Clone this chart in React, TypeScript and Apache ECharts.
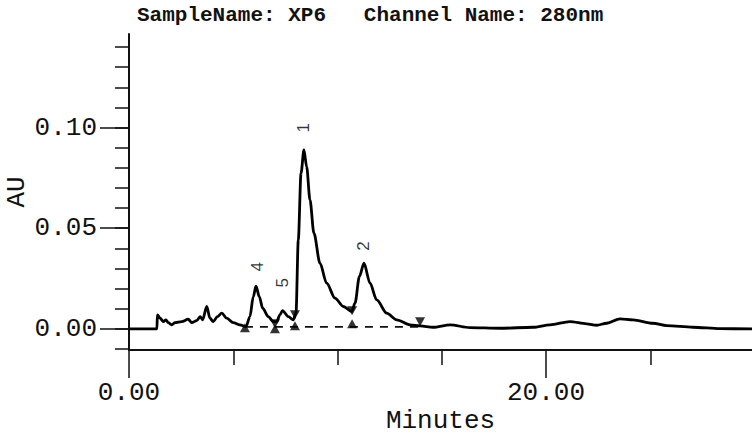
import React, { useEffect, useRef } from "react";
import * as echarts from "echarts";

// Chromatogram trace (Minutes, AU)
const timeMin = [
  0, 1.34, 1.36, 1.49, 1.65, 1.77, 1.88, 2.05, 2.21, 2.53, 2.84, 3.01, 3.25, 3.41, 3.53, 3.73, 3.88,
  4.04, 4.24, 4.45, 4.69, 5.0, 5.32, 5.61, 5.8, 5.96, 6.09, 6.25, 6.41, 6.68, 6.92, 7.08, 7.24,
  7.36, 7.64, 7.88, 8.01, 8.12, 8.25, 8.39, 8.52, 8.68, 8.87, 9.16, 9.48, 9.88, 10.28, 10.68,
  10.84, 11.05, 11.27, 11.56, 11.88, 12.36, 12.84, 13.48, 13.96, 14.58, 15.4, 16.35, 17.79,
  19.38, 20.19, 21.15, 21.95, 22.43, 22.91, 23.55, 24.17, 25.13, 25.79, 27.05, 28.35, 29.88,
];
const absorbanceAU = [
  0, 0, 0.007, 0.0053, 0.0036, 0.0045, 0.0031, 0.002, 0.0031, 0.0036, 0.0048, 0.0031, 0.0041,
  0.0061, 0.0045, 0.0111, 0.0053, 0.0036, 0.0061, 0.0078, 0.0053, 0.0031, 0.002, 0.0011, 0.0061,
  0.016, 0.0212, 0.016, 0.0103, 0.0061, 0.0036, 0.0036, 0.007, 0.0091, 0.0061, 0.0045, 0.0079,
  0.0442, 0.0773, 0.0889, 0.0806, 0.0641, 0.0475, 0.0326, 0.0227, 0.0153, 0.0111, 0.0086,
  0.0128, 0.026, 0.0326, 0.0227, 0.0144, 0.0078, 0.0045, 0.002, 0.0015, 0.0008, 0.002, 0.0006,
  0.0003, 0.0008, 0.002, 0.0036, 0.0025, 0.0018, 0.0028, 0.005, 0.0045, 0.0028, 0.0016, 0.0008,
  0.0001, 0,
];

// Peak numbers
const peakLabelNames = ["1", "2", "4", "5"];
const peakLabelTimes = [8.39, 11.27, 6.14, 7.34];
const peakLabelAU = [0.0999, 0.0412, 0.0308, 0.0229];

// Integration marks
const peakStartTimes = [5.56, 7.0, 7.96, 10.7];
const peakStartAU = [0.0005, 0.0, 0.0015, 0.0025];
const peakEndTimes = [7.0, 7.96, 10.7, 13.96];
const peakEndAU = [0.0025, 0.007, 0.009, 0.0035];
const baselineTimes = [5.56, 13.96];
const baselineAU = [0.001, 0.001];

// Axis ticks
const yMinorTicks = [-0.01, 0, 0.01, 0.02, 0.03, 0.04, 0.05, 0.06, 0.07, 0.08, 0.09, 0.1, 0.11, 0.12, 0.13, 0.14];
const yMajorTicks = [0, 0.05, 0.1];
const xMinorTicks = [5, 10, 15, 25];
const xMajorTicks = [0, 20];

const titleText = "SampleName: XP6   Channel Name: 280nm";

const MONO = "'Liberation Mono', 'DejaVu Sans Mono', monospace";

export default function App() {
  const ref = useRef<HTMLDivElement>(null);

  useEffect(() => {
    if (!ref.current) return;
    const chart = echarts.init(ref.current, null, { renderer: "svg" });
    const X_MIN = 0;
    const X_MAX = 29.88;
    const Y_MIN = -0.0105;
    const Y_MAX = 0.1465;

    const axisColor = "#111";
    const option: any = {
      animation: false,
      backgroundColor: "#fff",
      title: {
        text: titleText,
        left: 132,
        top: 0,
        textStyle: { fontFamily: MONO, fontSize: 21, fontWeight: "bold", color: "#111" },
      },
      grid: {
        left: 129,
        top: 34,
        width: 623,
        height: 316,
        containLabel: false,
        outerBoundsMode: "none",
      },
      xAxis: [
        {
          type: "value",
          min: X_MIN,
          max: X_MAX,
          position: "bottom",
          name: "Minutes",
          nameLocation: "middle",
          nameGap: 58,
          nameMoveOverlap: false,
          nameTextStyle: { fontFamily: MONO, fontSize: 26, color: "#111" },
          axisLine: { onZero: false, lineStyle: { color: axisColor, width: 2 } },
          axisTick: { customValues: xMinorTicks, length: 15, lineStyle: { color: axisColor, width: 1.5 } },
          axisLabel: {
            customValues: xMajorTicks,
            formatter: (v: number) => v.toFixed(2),
            margin: 30,
            fontFamily: MONO,
            fontSize: 26,
            color: "#111",
          },
          splitLine: { show: false },
        },
        {
          type: "value",
          min: X_MIN,
          max: X_MAX,
          position: "bottom",
          axisLine: { show: false, onZero: false },
          axisTick: { customValues: xMajorTicks, length: 28, lineStyle: { color: axisColor, width: 1.5 } },
          axisLabel: { show: false },
          splitLine: { show: false },
        },
      ],
      yAxis: [
        {
          type: "value",
          min: Y_MIN,
          max: Y_MAX,
          position: "left",
          name: "AU",
          nameLocation: "middle",
          nameRotate: 90,
          nameGap: 99,
          nameMoveOverlap: false,
          nameTextStyle: { fontFamily: MONO, fontSize: 26, color: "#111" },
          axisLine: { onZero: false, lineStyle: { color: axisColor, width: 2 } },
          axisTick: { customValues: yMinorTicks, length: 14, lineStyle: { color: axisColor, width: 1.5 } },
          axisLabel: {
            customValues: yMajorTicks,
            formatter: (v: number) => v.toFixed(2),
            margin: 32,
            fontFamily: MONO,
            fontSize: 26,
            color: "#111",
          },
          splitLine: { show: false },
        },
        {
          type: "value",
          min: Y_MIN,
          max: Y_MAX,
          position: "left",
          axisLine: { show: false, onZero: false },
          axisTick: { customValues: yMajorTicks, length: 29, lineStyle: { color: axisColor, width: 1.5 } },
          axisLabel: { show: false },
          splitLine: { show: false },
        },
      ],
      series: [
        {
          type: "line",
          name: "baseline",
          xAxisIndex: 0,
          yAxisIndex: 0,
          data: baselineTimes.map((t, i) => [t, baselineAU[i]]),
          symbol: "none",
          lineStyle: { color: "#111", width: 1.7, type: [8, 7] },
          z: 1,
        },
        {
          type: "line",
          name: "280nm",
          xAxisIndex: 0,
          yAxisIndex: 0,
          data: timeMin.map((t, i) => [t, absorbanceAU[i]]),
          symbol: "none",
          smooth: 0.3,
          smoothMonotone: "x",
          lineStyle: { color: "#000", width: 2.8 },
          z: 3,
        },
        {
          type: "scatter",
          name: "peak start",
          data: peakStartTimes.map((t, i) => [t, peakStartAU[i]]),
          symbol: "triangle",
          symbolSize: [10, 9],
          itemStyle: { color: "#000" },
          z: 4,
        },
        {
          type: "scatter",
          name: "peak end",
          data: peakEndTimes.map((t, i) => [t, peakEndAU[i]]),
          symbol: "triangle",
          symbolRotate: 180,
          symbolSize: [10, 9],
          itemStyle: { color: "#000" },
          z: 4,
        },
        {
          type: "scatter",
          name: "peak labels",
          data: peakLabelNames.map((n, i) => ({ name: n, value: [peakLabelTimes[i], peakLabelAU[i]] })),
          symbol: "circle",
          symbolSize: 2,
          itemStyle: { color: "rgba(0,0,0,0)" },
          labelLayout: { hideOverlap: false },
          label: {
            show: true,
            position: "inside",
            formatter: (p: any) => p.name,
            rotate: 90,
            fontFamily: "'Liberation Sans', Arial, sans-serif",
            fontSize: 17,
            color: "#000",
          },
          z: 5,
        },
      ],
    };
    chart.setOption(option);
    return () => chart.dispose();
  }, []);

  return (
    <div
      ref={ref}
      style={{ position: "fixed", left: 0, top: 0, width: 752, height: 437, background: "#fff" }}
    />
  );
}
